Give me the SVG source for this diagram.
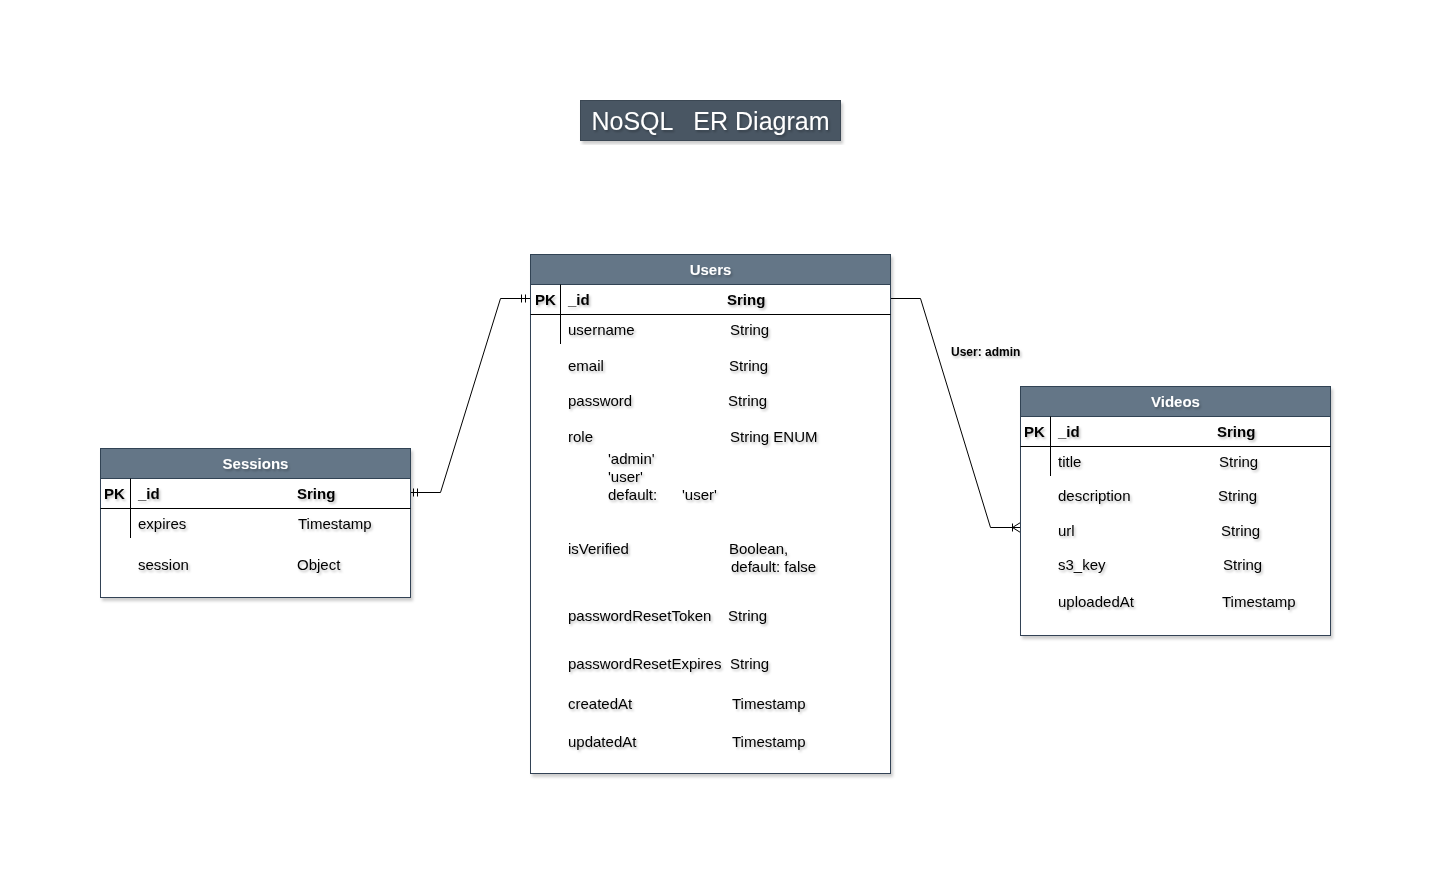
<svg xmlns="http://www.w3.org/2000/svg" width="1437" height="880" viewBox="0 0 1437 880">
<defs>
<filter id="ts" x="-10%" y="-30%" width="130%" height="180%">
<feDropShadow dx="1.5" dy="2" stdDeviation="1" flood-color="#000" flood-opacity="0.25"/>
</filter>
<filter id="bs" x="-5%" y="-5%" width="115%" height="115%">
<feDropShadow dx="2" dy="3" stdDeviation="1.5" flood-color="#000" flood-opacity="0.2"/>
</filter>
</defs>
<style>
text{font-family:"Liberation Sans",Arial,Helvetica,sans-serif;font-size:15px;fill:#000;filter:url(#ts)}
.b{font-weight:bold}
.h{font-weight:bold;fill:#fff;text-anchor:middle}
.box{fill:#fff;stroke:#314354;stroke-width:1}
.hd{fill:#647687;stroke:#314354;stroke-width:1}
.ln{stroke:#000;stroke-width:1;fill:none}
.cn{stroke:#000;stroke-width:1;fill:none}
</style>
<rect width="1437" height="880" fill="#fff"/>

<g id="title">
<rect x="580.5" y="100.5" width="260" height="40" fill="#4a5664" stroke="#3a4652" filter="url(#bs)"/>
<text x="710.5" y="130" xml:space="preserve" style="font-size:25px;fill:#fff;text-anchor:middle;white-space:pre">NoSQL   ER Diagram</text>
</g>

<g id="connectors">
<path class="cn" d="M410.5 492.5 H440.5 L500.5 298.5 H530.5"/>
<path class="cn" d="M413.5 488.5 V496.5 M417.5 488.5 V496.5"/>
<path class="cn" d="M521.5 294.5 V302.5 M525.5 294.5 V302.5"/>
<path class="cn" d="M890.5 298.5 H920.5 L990.5 527.5 H1020.5"/>
<path class="cn" d="M1012.5 523.5 V531.5 M1012.5 527.5 L1020.5 522.5 M1012.5 527.5 L1020.5 532.5"/>
<text x="951" y="356" class="b" style="font-size:12px">User: admin</text>
</g>

<g id="users">
<rect class="box" x="530.5" y="254.5" width="360" height="519" filter="url(#bs)"/>
<rect class="hd" x="530.5" y="254.5" width="360" height="30"/>
<text class="h" x="710.5" y="275">Users</text>
<line class="ln" x1="530.5" y1="314.5" x2="890.5" y2="314.5"/>
<line class="ln" x1="560.5" y1="284.5" x2="560.5" y2="344"/>
<text class="b" x="535" y="305">PK</text>
<text class="b" x="568" y="305">_id</text>
<text class="b" x="727" y="305">Sring</text>
<text x="568" y="335">username</text><text x="730" y="335">String</text>
<text x="568" y="371">email</text><text x="729" y="371">String</text>
<text x="568" y="406">password</text><text x="728" y="406">String</text>
<text x="568" y="442">role</text><text x="730" y="442">String ENUM</text>
<text x="608" y="464">'admin'</text>
<text x="608" y="482">'user'</text>
<text x="608" y="500">default:</text><text x="682" y="500">'user'</text>
<text x="568" y="554">isVerified</text><text x="729" y="554">Boolean,</text>
<text x="731" y="572">default: false</text>
<text x="568" y="621">passwordResetToken</text><text x="728" y="621">String</text>
<text x="568" y="669">passwordResetExpires</text><text x="730" y="669">String</text>
<text x="568" y="709">createdAt</text><text x="732" y="709">Timestamp</text>
<text x="568" y="747">updatedAt</text><text x="732" y="747">Timestamp</text>
</g>

<g id="sessions">
<rect class="box" x="100.5" y="448.5" width="310" height="149" filter="url(#bs)"/>
<rect class="hd" x="100.5" y="448.5" width="310" height="30"/>
<text class="h" x="255.5" y="469">Sessions</text>
<line class="ln" x1="100.5" y1="508.5" x2="410.5" y2="508.5"/>
<line class="ln" x1="130.5" y1="478.5" x2="130.5" y2="538"/>
<text class="b" x="104" y="499">PK</text>
<text class="b" x="138" y="499">_id</text>
<text class="b" x="297" y="499">Sring</text>
<text x="138" y="529">expires</text><text x="298" y="529">Timestamp</text>
<text x="138" y="570">session</text><text x="297" y="570">Object</text>
</g>

<g id="videos">
<rect class="box" x="1020.5" y="386.5" width="310" height="249" filter="url(#bs)"/>
<rect class="hd" x="1020.5" y="386.5" width="310" height="30"/>
<text class="h" x="1175.5" y="407">Videos</text>
<line class="ln" x1="1020.5" y1="446.5" x2="1330.5" y2="446.5"/>
<line class="ln" x1="1050.5" y1="416.5" x2="1050.5" y2="476"/>
<text class="b" x="1024" y="437">PK</text>
<text class="b" x="1058" y="437">_id</text>
<text class="b" x="1217" y="437">Sring</text>
<text x="1058" y="467">title</text><text x="1219" y="467">String</text>
<text x="1058" y="501">description</text><text x="1218" y="501">String</text>
<text x="1058" y="536">url</text><text x="1221" y="536">String</text>
<text x="1058" y="570">s3_key</text><text x="1223" y="570">String</text>
<text x="1058" y="607">uploadedAt</text><text x="1222" y="607">Timestamp</text>
</g>
</svg>
